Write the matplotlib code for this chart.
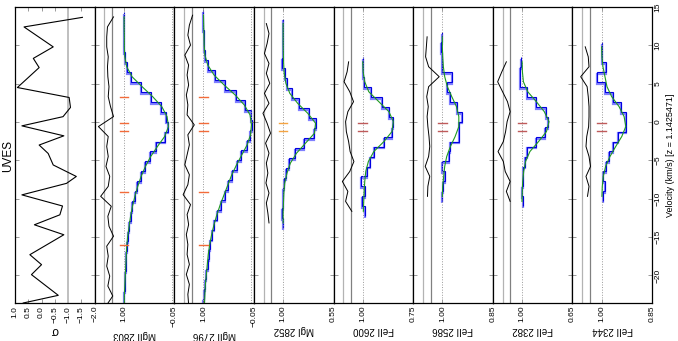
import numpy as np
import matplotlib.pyplot as plt

plt.rcParams['font.family'] = ['Liberation Sans', 'DejaVu Sans']
plt.rcParams['axes.unicode_minus'] = True

# velocity width of one UVES pixel (km/s)
dv = 1.3

# sigma panel (velocity, value)
sig_vel = [13.65, 12.4, 9.8, 8.3, 7.1, 4.5, 3.2, 1.9, 0.7, -0.5, -1.8, -3.0, -4.1,
           -5.6, -7.1, -8.0, -9.5, -10.95, -12.1, -13.4, -14.7, -17.3, -18.6, -19.9,
           -22.6, -23.6]
sig_val = [-1.54, 0.66, -0.44, 0.31, 0.09, 0.91, -1.04, -1.09, -0.81, 0.74, -0.84, 0.09,
           -0.25, -0.44, -1.31, -0.94, 0.74, -0.79, -0.69, 0.27, -0.84, 0.44, 0.0, 0.38,
           -0.63, 0.69]

# MgII 2803
mg2803_top = 14.36
mg2803_flux = [0.99, 0.99, 1.0, 1.0, 0.98, 0.93, 0.85, 0.65, 0.44, 0.23, 0.12, 0.08, 0.14,
               0.32, 0.46, 0.56, 0.64, 0.72, 0.77, 0.82, 0.86, 0.90, 0.92, 0.94, 0.95, 0.96,
               0.97, 0.98, 0.99, 1.0]
mg2803_model = [0.995, 0.995, 0.99, 0.99, 0.98, 0.94, 0.83, 0.62, 0.40, 0.21, 0.10, 0.07,
                0.15, 0.30, 0.44, 0.55, 0.64, 0.71, 0.77, 0.82, 0.86, 0.89, 0.92, 0.94,
                0.95, 0.96, 0.97, 0.98, 0.99, 0.99]
mg2803_resid = [-1.4, 0.2, 0.4, 0.4, 0.0, 0.2, 0.1, -0.2, 0.0, -0.6, -1.4, 2.6, 0.0, 0.4,
                0.0, 0.6, -0.4, 0.0, 2.0, -0.8, 0.1, -0.2, -1.4, 0.4, 0.0, 0.4, -0.4, 0.1,
                -1.2, 0.6]

# MgII 2796
mg2796_top = 14.58
mg2796_flux = [1.0, 1.0, 0.99, 0.98, 0.97, 0.91, 0.77, 0.56, 0.33, 0.14, 0.02, -0.02, 0.03,
               0.10, 0.21, 0.31, 0.41, 0.49, 0.56, 0.63, 0.72, 0.79, 0.83, 0.87, 0.89, 0.91,
               0.94, 0.96, 0.98, 1.0]
mg2796_model = [1.0, 0.995, 0.99, 0.985, 0.97, 0.91, 0.78, 0.57, 0.34, 0.15, 0.03, 0.0,
                0.02, 0.09, 0.20, 0.31, 0.41, 0.49, 0.57, 0.65, 0.72, 0.78, 0.83, 0.87,
                0.90, 0.92, 0.94, 0.96, 0.97, 0.98]
mg2796_resid = [-1.25, -0.4, 0.0, -0.7, 0.8, -0.2, 0.2, -0.2, 0.4, 0.0, 0.2, -1.7, 0.0,
                -0.4, 0.2, 0.8, -0.4, 0.0, 1.25, -0.7, 0.2, -0.2, 0.4, 0.0, 0.2, -0.4, 0.4,
                -0.4, 0.0, -0.2]

# MgI 2852
mg2852_top = 13.49
mg2852_flux = [1.0, 1.0, 1.0, 1.0, 1.01, 0.98, 0.965, 0.92, 0.86, 0.77, 0.705, 0.725, 0.815,
               0.89, 0.95, 0.975, 0.99, 1.0, 1.0, 1.01, 1.0]
mg2852_model = [1.0, 1.0, 1.0, 0.998, 0.995, 0.99, 0.975, 0.94, 0.87, 0.78, 0.71, 0.72,
                0.80, 0.88, 0.935, 0.965, 0.985, 0.993, 0.997, 1.0, 1.0]
mg2852_resid = [0.3, -0.4, 0.1, 0.8, -0.4, 0.3, -0.6, 0.8, -0.4, 1.2, 0.1, -0.8, 0.5, -0.4,
                0.3, -0.1, 0.4, -0.4, 0.3, -0.1, -0.4]

# FeII 2600
fe2600_top = 8.5
fe2600_flux = [1.0, 1.0, 0.995, 0.96, 0.905, 0.87, 0.85, 0.855, 0.895, 0.945, 0.965, 0.98,
               1.008, 0.99, 1.005, 0.987]
fe2600_model = [1.0, 0.998, 0.99, 0.97, 0.92, 0.87, 0.848, 0.855, 0.895, 0.945, 0.972,
                0.985, 0.99, 0.993, 0.995, 0.997]
fe2600_resid = [-0.4, 0.0, 0.8, -0.7, -1.7, -0.2, 0.4, 0.2, -0.4, -0.8, -1.8, -0.7, 1.25,
                -0.2, 0.4, -1.25]

# FeII 2586
fe2586_top = 11.76
fe2586_flux = [1.0, 1.005, 1.0, 1.0, 0.97, 0.987, 0.977, 0.957, 0.942, 0.95, 0.95, 0.977,
               0.98, 1.0, 0.992, 0.997, 1.0]
fe2586_model = [1.0, 1.0, 0.999, 0.997, 0.993, 0.985, 0.972, 0.958, 0.951, 0.951, 0.962,
                0.976, 0.987, 0.993, 0.996, 0.999, 1.0]
fe2586_resid = [-0.1, 0.1, 0.3, -0.5, -3.3, -0.5, 0.0, -0.4, -0.1, -0.3, -0.6, -0.8, -0.5,
                0.4, -0.8, -0.3, -0.2]

# FeII 2382
fe2382_top = 8.5
fe2382_flux = [1.01, 1.012, 1.012, 0.968, 0.90, 0.83, 0.817, 0.84, 0.90, 0.968, 0.98, 0.99,
               0.99, 1.0, 0.99]
fe2382_model = [0.999, 0.997, 0.99, 0.96, 0.90, 0.845, 0.812, 0.83, 0.885, 0.945, 0.975,
                0.988, 0.995, 0.998, 1.0]
fe2382_resid = [0.0, 1.2, 2.3, 1.0, -0.3, -1.0, -0.2, 0.2, 0.8, 2.2, 0.8, 0.3, -1.0, 0.0,
                -1.0]

# FeII 2344
fe2344_top = 10.46
fe2344_flux = [1.0, 1.0, 0.987, 1.015, 0.99, 0.965, 0.942, 0.927, 0.928, 0.95, 0.967, 0.977,
               0.987, 0.995, 0.99, 0.997]
fe2344_model = [1.0, 0.999, 0.996, 0.99, 0.984, 0.97, 0.948, 0.933, 0.928, 0.94, 0.958,
                0.975, 0.988, 0.995, 0.998, 0.999]
fe2344_resid = [0.2, -0.6, -0.8, 1.4, -0.3, -0.6, -0.8, -0.8, -0.7, -0.2, 0.0, -0.8, -1.2,
                0.0, -0.8, -0.4]

# component velocities
mgii_comps = [3.3, -0.1, -1.15, -9.1, -16.0]
main_comps = [-0.1, -1.15]

panels = [
    ('MgII 2803', -0.05, mg2803_top, mg2803_flux, mg2803_model, mg2803_resid, mgii_comps, '#f26b3a'),
    ('MgII 2796', -0.05, mg2796_top, mg2796_flux, mg2796_model, mg2796_resid, mgii_comps, '#f26b3a'),
    ('MgI 2852', 0.55, mg2852_top, mg2852_flux, mg2852_model, mg2852_resid, main_comps, '#f5a442'),
    ('FeII 2600', 0.75, fe2600_top, fe2600_flux, fe2600_model, fe2600_resid, main_comps, '#bf5b5b'),
    ('FeII 2586', 0.85, fe2586_top, fe2586_flux, fe2586_model, fe2586_resid, main_comps, '#bf5b5b'),
    ('FeII 2382', 0.65, fe2382_top, fe2382_flux, fe2382_model, fe2382_resid, main_comps, '#bf5b5b'),
    ('FeII 2344', 0.85, fe2344_top, fe2344_flux, fe2344_model, fe2344_resid, main_comps, '#bf5b5b'),
]

vlim = (-23.6, 15)
vticks = [-20, -15, -10, -5, 0, 5, 10, 15]


def minus(s):
    return s.replace('-', '\u2212')


def style(ax):
    for sp in ax.spines.values():
        sp.set_linewidth(0.9)
    ax.set_ylim(vlim)
    ax.set_yticks(vticks)
    ax.tick_params(direction='in', length=3, width=0.5, color='0.45',
                   top=True, bottom=True, left=True, right=True,
                   labelleft=False, labelsize=6, pad=2)
    ax.tick_params(axis='x', labelrotation=90)


W, H = 678, 341
x0, pw = 15, (652 - 15) / 8
fig = plt.figure(figsize=(W / 100, H / 100), dpi=100)

# sigma panel
ax = fig.add_axes([x0 / W, 38 / H, pw / W, 296 / H])
ax.axvline(-1.0, color='0.75', lw=1.4)
ax.plot(sig_val, sig_vel, color='k', lw=0.8)
ax.set_xlim(1.0, -2.0)
sticks = [1.0, 0.5, 0.0, -0.5, -1.0, -1.5, -2.0]
ax.set_xticks(sticks)
ax.set_xticklabels([minus('%.1f' % t) for t in sticks])
style(ax)
ax.set_xlabel('\u03c3', rotation=180, fontsize=8.5, labelpad=1)

for i, (name, ymin, vtop, flux, model, resid, comps, ccol) in enumerate(panels):
    ax = fig.add_axes([(x0 + (i + 1) * pw) / W, 38 / H, pw / W, 296 / H])
    n = len(flux)
    edges = vtop - dv * np.arange(n + 1)
    mid = edges[:-1] - dv / 2
    span = 1 - ymin
    ax.axvline(1.0, color='0.6', ls=':', lw=0.7)
    ax.axvline(0.0, color='0.6', ls=':', lw=0.7)
    ax.axvline(1 + span * 0.385, color='0.7', lw=0.9)
    ax.axvline(1 + span * 0.235, color='0.5', lw=0.9)
    ax.plot(1 + span * (0.31 + 0.075 * np.array(resid)), mid, color='k', lw=0.7)
    ax.stairs(flux[::-1], edges[::-1] - 0.25, orientation='horizontal', baseline=None,
              color='#8080ff', lw=1.6)
    ax.stairs(flux[::-1], edges[::-1], orientation='horizontal', baseline=None,
              color='#0000e0', lw=0.8)
    ax.plot(model, mid, color='#1f9a1f', lw=0.8)
    for v in comps:
        ax.plot([1 - 0.085 * span, 1 + 0.085 * span], [v, v], color=ccol, lw=1)
    ax.set_xlim(1 + 0.58 * span, ymin)
    ax.set_xticks([1.0, ymin])
    ax.set_xticklabels([minus('%.2f' % t) for t in (1.0, ymin)])
    style(ax)
    ax.set_xlabel(name, rotation=180, fontsize=7, labelpad=2)
    if i == len(panels) - 1:
        ax.tick_params(axis='y', labelright=True, labelrotation=90)
        ax.set_yticklabels([minus(str(t)) for t in vticks], va='center')
        ax.yaxis.set_label_position('right')
        ax.set_ylabel('Velocity (km/s) [z = 1.1425471]', fontsize=6.5, labelpad=3)

fig.text(8 / W, 1 - 156 / H, 'UVES', rotation=90, ha='center', va='center', fontsize=8.5)

fig.savefig('out.png', dpi=100)
